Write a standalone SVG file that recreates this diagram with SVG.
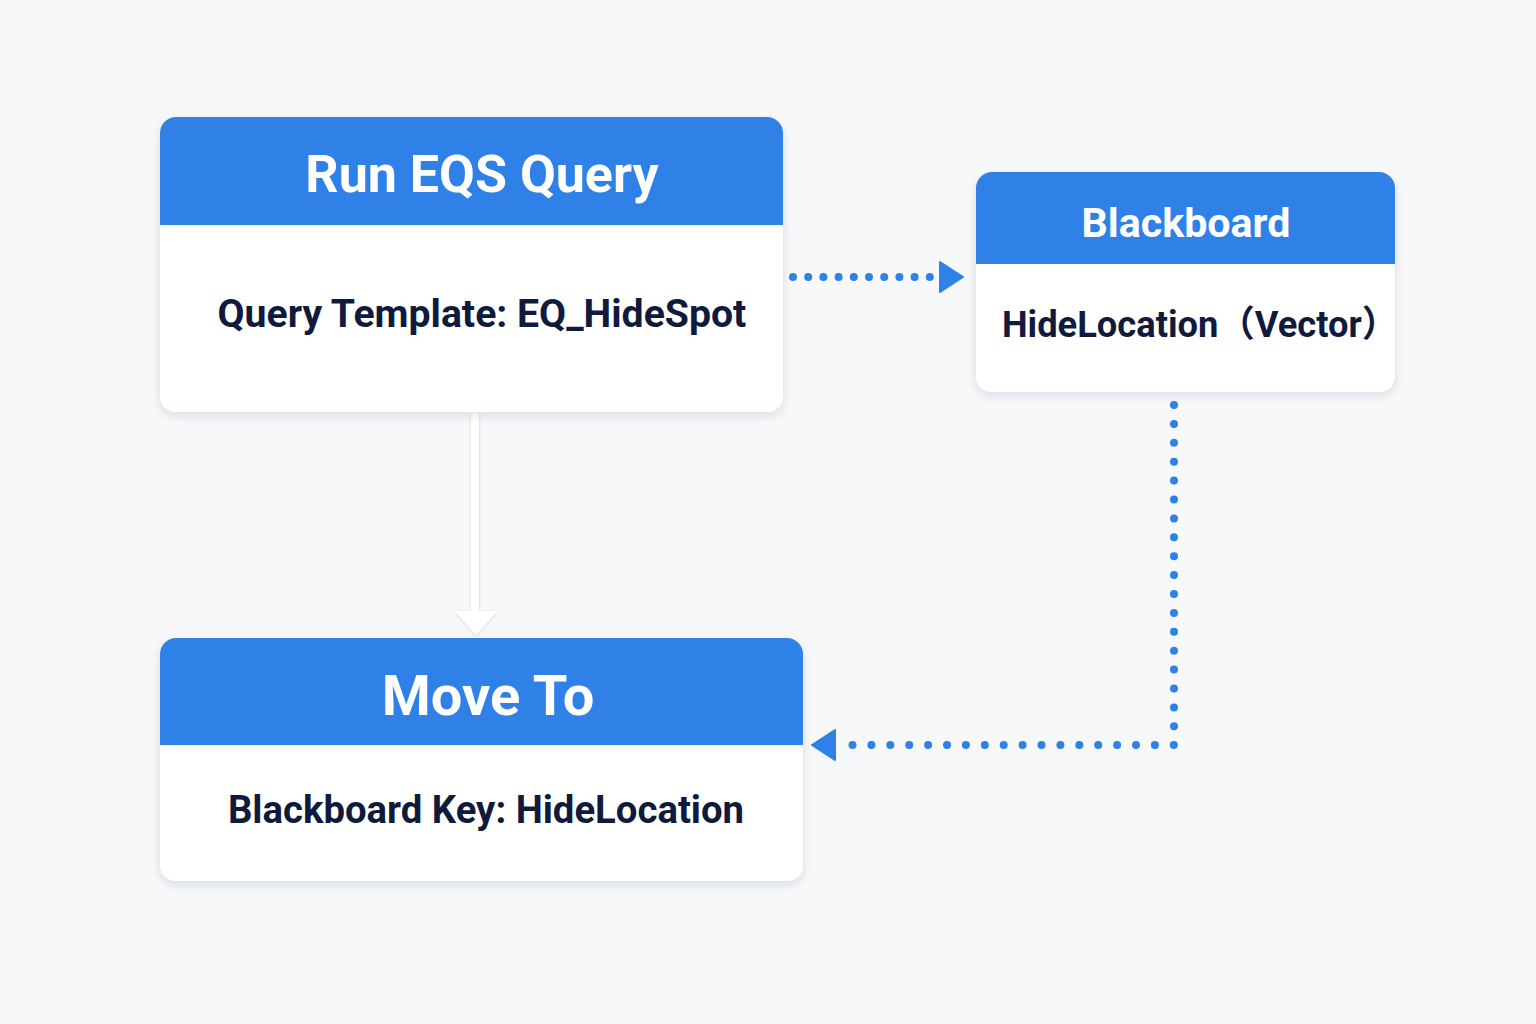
<svg xmlns="http://www.w3.org/2000/svg" width="1536" height="1024" viewBox="0 0 1536 1024">
<defs>
<style>
.card{fill:#ffffff;}
.head{fill:#2f81e7;}
.title{font-family:Roboto,"Liberation Sans",sans-serif;font-weight:700;fill:#ffffff;text-anchor:middle;}
.body{font-family:Roboto,"Liberation Sans","Noto Sans CJK SC",sans-serif;font-weight:700;fill:#0f1a3c;text-anchor:middle;}
.dot{fill:none;stroke:#2f81e7;stroke-width:8;stroke-linecap:round;}
</style>
<filter id="sh" x="-10%" y="-10%" width="120%" height="130%">
<feDropShadow dx="0" dy="4" stdDeviation="5" flood-color="#1a2a4a" flood-opacity="0.12"/>
</filter>
<filter id="sh2" x="-50%" y="-10%" width="200%" height="120%">
<feDropShadow dx="0" dy="1" stdDeviation="1.5" flood-color="#1a2a4a" flood-opacity="0.15"/>
</filter>
</defs>
<rect width="1536" height="1024" fill="#f7f8fa"/>

<g id="connectors">
<path class="dot" d="M793 277 L930 277" stroke-dasharray="0 15.2"/>
<path d="M940 262 L963 277 L940 292 Z" fill="#2f81e7" stroke="#2f81e7" stroke-width="2" stroke-linejoin="round"/>
<path class="dot" d="M1174 405 L1174 745 L845 745" stroke-dasharray="0 18.9"/>
<path d="M835 730 L812 745 L835 760 Z" fill="#2f81e7" stroke="#2f81e7" stroke-width="2" stroke-linejoin="round"/>
<g filter="url(#sh2)">
<rect x="471" y="412" width="8" height="205" fill="#ffffff"/>
<path d="M455 611 L497 611 L476 635 Z" fill="#ffffff"/>
</g>
</g>

<g id="node-run-eqs">
<g filter="url(#sh)">
<rect class="card" x="160" y="117" width="623" height="295" rx="16"/>
</g>
<path class="head" d="M160 225 V133 A16 16 0 0 1 176 117 H767 A16 16 0 0 1 783 133 V225 Z"/>
<text class="title" x="482" y="192" font-size="52">Run EQS Query</text>
<text class="body" x="482" y="327" font-size="39.2">Query Template: EQ_HideSpot</text>
</g>

<g id="node-blackboard">
<g filter="url(#sh)">
<rect class="card" x="976" y="172" width="419" height="220" rx="16"/>
</g>
<path class="head" d="M976 264 V188 A16 16 0 0 1 992 172 H1379 A16 16 0 0 1 1395 188 V264 Z"/>
<text class="title" x="1186" y="237" font-size="41.2">Blackboard</text>
<text class="body" x="1200" y="337" font-size="36.3">HideLocation（Vector）</text>
</g>

<g id="node-move-to">
<g filter="url(#sh)">
<rect class="card" x="160" y="638" width="643" height="243" rx="16"/>
</g>
<path class="head" d="M160 745 V654 A16 16 0 0 1 176 638 H787 A16 16 0 0 1 803 654 V745 Z"/>
<text class="title" x="488" y="715" font-size="56">Move To</text>
<text class="body" x="486" y="823" font-size="38.3">Blackboard Key: HideLocation</text>
</g>
</svg>
